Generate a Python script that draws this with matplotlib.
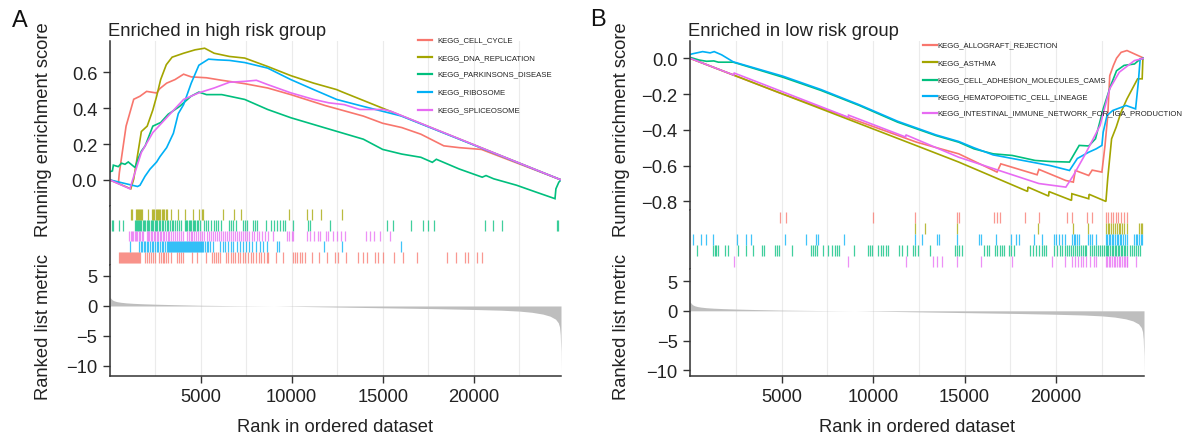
import matplotlib
matplotlib.use("Agg")
import matplotlib.pyplot as plt
from matplotlib.lines import Line2D
from matplotlib.ticker import FuncFormatter, FixedLocator, MultipleLocator

plt.rcParams["font.family"] = ["Liberation Sans", "DejaVu Sans"]

# ── data: panel A (enriched in high risk group) ───────────────────────────────
names_a = ["KEGG_CELL_CYCLE", "KEGG_DNA_REPLICATION", "KEGG_PARKINSONS_DISEASE",
           "KEGG_RIBOSOME", "KEGG_SPLICEOSOME"]

cell_cycle_x = [0, 480, 530, 900, 1320, 1665, 2030, 2580, 2760, 3130, 3590, 4060, 4480,
                5320, 6160, 7420, 8680, 9950, 11840, 13940, 15000, 16050, 17100, 18360,
                19200, 20430, 24800]
cell_cycle_y = [0, -0.015, 0.04, 0.30, 0.45, 0.467, 0.494, 0.485, 0.51, 0.54, 0.56, 0.59,
                0.575, 0.57, 0.556, 0.537, 0.513, 0.476, 0.415, 0.356, 0.316, 0.292, 0.255,
                0.19, 0.18, 0.17, 0.0]

dna_x = [0, 1160, 1320, 1740, 2060, 2370, 2580, 2800, 3110, 3430, 4060, 4690, 5220, 5740,
         6580, 7420, 8680, 9950, 11210, 12470, 12750, 24800]
dna_y = [0, -0.05, 0.005, 0.27, 0.30, 0.39, 0.467, 0.56, 0.643, 0.685, 0.707, 0.726, 0.735,
         0.707, 0.689, 0.68, 0.633, 0.582, 0.54, 0.504, 0.492, 0.0]

parkinsons_x = [0, 150, 200, 470, 650, 840, 1020, 1390, 1570, 1740, 1950, 2370, 2800, 3210,
                3840, 4470, 4900, 5320, 6160, 6580, 7420, 8680, 9950, 11840, 13940, 15000,
                16050, 17100, 17730, 17950, 19200, 20470, 20680, 21100, 22360, 23420, 24470,
                24520, 24680, 24800]
parkinsons_y = [0.045, 0.05, 0.082, 0.074, 0.093, 0.087, 0.10, 0.069, 0.12, 0.16, 0.19, 0.30,
                0.32, 0.366, 0.41, 0.467, 0.49, 0.476, 0.476, 0.467, 0.449, 0.393, 0.347, 0.29,
                0.227, 0.17, 0.144, 0.126, 0.098, 0.115, 0.061, 0.015, 0.024, 0.006, -0.03,
                -0.068, -0.105, -0.05, -0.013, 0.0]

ribosome_x = [0, 1530, 1665, 1940, 2215, 2580, 2764, 3130, 3500, 3770, 4060, 4480, 4900,
              5430, 5950, 6580, 7420, 8680, 9950, 11210, 12470, 13940, 16010, 24800]
ribosome_y = [0, -0.037, -0.03, 0.02, 0.06, 0.10, 0.13, 0.18, 0.26, 0.37, 0.42, 0.54, 0.64,
              0.674, 0.67, 0.667, 0.655, 0.624, 0.56, 0.504, 0.449, 0.41, 0.357, 0.0]

spliceosome_x = [0, 1115, 1220, 1740, 2370, 3210, 4060, 4900, 5740, 6580, 7420, 8060, 8680,
                 9950, 11210, 12050, 12890, 13740, 14160, 15000, 15400, 24800]
spliceosome_y = [0, -0.05, -0.013, 0.153, 0.264, 0.356, 0.449, 0.486, 0.513, 0.545, 0.55,
                 0.556, 0.532, 0.486, 0.449, 0.43, 0.42, 0.393, 0.393, 0.393, 0.385, 0.0]

hits_cell_cycle = [511, 566, 621, 676, 731, 786, 841, 896, 951, 1006, 1061, 1116, 1171, 1225,
                   1280, 1335, 1390, 1445, 1500, 1555, 1610, 1665, 1940, 2031, 2141, 2251,
                   2361, 2490, 2728, 2819, 2911, 3003, 3094, 3204, 3351, 3717, 3827, 3937,
                   4047, 4505, 4817, 5293, 5605, 5715, 5825, 5953, 6063, 6393, 6521, 6649,
                   6777, 6905, 7033, 7161, 7308, 7455, 7601, 7748, 7894, 8041, 8187, 8334,
                   8480, 8627, 8719, 9140, 9506, 10056, 10184, 10312, 10459, 10587, 10734,
                   11100, 11521, 11924, 12382, 12565, 12987, 13664, 13939, 14122, 14580,
                   14764, 15038, 15624, 16101, 16907, 18519, 19032, 19527, 19710, 20168, 20443]
hits_dna = [1152, 1225, 1445, 1482, 1537, 1592, 1647, 1702, 1757, 2087, 2307, 2399, 2453,
            2527, 2582, 2637, 2710, 2783, 2857, 2912, 3003, 3077, 3131, 3369, 3735, 4138,
            4560, 4926, 5054, 5146, 6209, 6850, 7198, 9873, 10826, 11119, 11632, 12749]
hits_parkinsons = [145, 200, 530, 713, 1390, 1445, 1500, 1555, 1610, 1665, 1738, 1812, 1885,
                   1958, 2031, 2105, 2178, 2251, 2325, 2398, 2471, 2545, 2618, 2691, 2764,
                   2874, 2948, 3039, 3131, 3223, 3314, 3406, 3498, 3607, 3717, 3827, 3937,
                   4138, 4193, 4267, 4340, 4413, 4487, 4560, 4633, 4706, 4780, 4871, 4963,
                   5183, 5293, 5421, 5549, 5732, 5842, 5971, 6099, 6575, 6685, 6795, 6941,
                   7308, 7418, 7528, 7857, 7985, 8077, 8572, 8847, 9030, 9213, 9360, 9506,
                   9634, 10092, 10898, 11008, 12107, 15258, 15551, 16540, 17200, 17511,
                   17823, 20626, 21084, 21542, 24565, 24657]
hits_ribosome = [1116, 1629, 1702, 1793, 1866, 1958, 2031, 2123, 2215, 2307, 2398, 2490,
                 2582, 2673, 2764, 2856, 2948, 3039, 3131, 3186, 3241, 3296, 3351, 3406,
                 3461, 3516, 3571, 3626, 3681, 3735, 3790, 3845, 3900, 3955, 4010, 4065,
                 4120, 4175, 4230, 4285, 4340, 4395, 4450, 4505, 4560, 4615, 4670, 4724,
                 4779, 4834, 4889, 4944, 4999, 5054, 5146, 5238, 5329, 5421, 5513, 5696,
                 6063, 6209, 6356, 6521, 6649, 6795, 6978, 7161, 7344, 7491, 7656, 7802,
                 8041, 8260, 8443, 8627, 9176, 9305, 11796, 12785, 16009]
hits_spliceosome = [1079, 1152, 1225, 1299, 1372, 1445, 1518, 1592, 1665, 1757, 1848, 2031,
                    2105, 2178, 2270, 2343, 2435, 2508, 2600, 2673, 2764, 2838, 2929, 3003,
                    3094, 3186, 3278, 3369, 3461, 3571, 3681, 3791, 3901, 4010, 4267, 4358,
                    4450, 4542, 4633, 4743, 4853, 4963, 5073, 5201, 5329, 5458, 5586, 5696,
                    5806, 5916, 6026, 6136, 6245, 6355, 6465, 6575, 6685, 6795, 6905, 7015,
                    7125, 7235, 7345, 7455, 7564, 7674, 7803, 7931, 8077, 8224, 8352, 8535,
                    8719, 8957, 9763, 9873, 10001, 10092, 10862, 11008, 11228, 11466, 11558,
                    11888, 12016, 12290, 12510, 12693, 12932, 14086, 14306, 14526, 14856,
                    15405]

# ── data: panel B (enriched in low risk group) ────────────────────────────────
names_b = ["KEGG_ALLOGRAFT_REJECTION", "KEGG_ASTHMA", "KEGG_CELL_ADHESION_MOLECULES_CAMS",
           "KEGG_HEMATOPOIETIC_CELL_LINEAGE", "KEGG_INTESTINAL_IMMUNE_NETWORK_FOR_IGA_PRODUCTION"]

allograft_x = [0, 4880, 12380, 14680, 16770, 16980, 18960, 19060, 20530, 20940, 21050, 21780,
               21970, 22500, 22670, 22820, 22930, 23130, 23300, 23550, 23870, 24800]
allograft_y = [0, -0.193, -0.469, -0.534, -0.636, -0.59, -0.651, -0.621, -0.683, -0.692,
               -0.627, -0.655, -0.625, -0.636, -0.487, -0.32, -0.097, -0.04, 0.0, 0.033,
               0.043, 0.0]

asthma_x = [0, 12260, 14680, 18440, 18460, 19590, 19610, 20840, 20860, 21780, 21800, 22720,
            22820, 23030, 23280, 23550, 23870, 24450, 24700, 24740, 24800]
asthma_y = [0, -0.484, -0.58, -0.744, -0.72, -0.77, -0.745, -0.794, -0.757, -0.785, -0.76,
            -0.80, -0.67, -0.45, -0.385, -0.30, -0.227, -0.115, -0.115, 0.0, 0.0]

cams_x = [0, 500, 900, 1300, 1550, 2360, 5070, 7160, 9250, 11340, 13430, 14680, 15510,
          16560, 17600, 18850, 19690, 20730, 20940, 21260, 21780, 22150, 22570, 22980, 23300,
          23710, 24280, 24600, 24800]
cams_y = [0.005, -0.01, -0.017, -0.015, -0.022, -0.022, -0.106, -0.18, -0.264, -0.357,
          -0.432, -0.469, -0.506, -0.534, -0.543, -0.571, -0.577, -0.58, -0.543, -0.487,
          -0.49, -0.45, -0.283, -0.153, -0.07, -0.04, -0.032, -0.004, 0.0]

hema_x = [0, 100, 690, 1100, 1320, 1730, 2360, 5070, 7160, 9250, 11340, 13430, 14680, 15510,
          16560, 18650, 19690, 20730, 21160, 21780, 22190, 22500, 22570, 22780, 23090, 23820,
          24340, 24490, 24590, 24800]
hema_y = [0.02, 0.024, 0.037, 0.03, 0.037, 0.019, -0.02, -0.10, -0.175, -0.26, -0.352,
          -0.428, -0.465, -0.50, -0.54, -0.58, -0.60, -0.627, -0.56, -0.525, -0.506, -0.487,
          -0.413, -0.32, -0.292, -0.264, -0.283, -0.134, -0.004, 0.0]

iga_x = [0, 2390, 2400, 8650, 8660, 11780, 11790, 14680, 19060, 20530, 20940, 21570, 22400,
         22930, 23450, 24280, 24800]
iga_y = [0, -0.094, -0.082, -0.33, -0.318, -0.44, -0.428, -0.553, -0.70, -0.72, -0.655,
         -0.54, -0.376, -0.17, -0.078, -0.013, 0.0]

hits_allograft = [4896, 5230, 10010, 12264, 14560, 14706, 16584, 16793, 16918, 18275, 19047,
                  20570, 20884, 21698, 21969, 22700, 22846, 22971, 23117, 23263, 23389,
                  23535, 23681, 23848]
hits_asthma = [12264, 12848, 14560, 19005, 20925, 21718, 22700, 22810, 22890, 23000, 23120,
               23190, 23300, 23410, 23490, 23610, 23700, 23848, 24519, 24623, 24686]
hits_cams = [367, 1265, 1348, 1432, 1515, 1933, 2079, 2600, 3080, 3435, 3915, 4019, 4645,
             4750, 4854, 5585, 6628, 6733, 6837, 6941, 7254, 7526, 7776, 7902, 8027, 8152,
             8966, 9697, 9822, 9968, 10281, 10427, 10552, 10698, 10802, 11428, 11574, 11846,
             12159, 12305, 12472, 13098, 14455, 14560, 14706, 14831, 16083, 16208, 16333,
             16646, 16793, 16918, 17064, 17168, 17419, 17544, 17690, 18587, 18733, 18879,
             19046, 19213, 19359, 19463, 19881, 20048, 20194, 20340, 20507, 20611, 20720,
             20820, 20930, 21030, 21130, 21240, 21340, 21450, 21550, 21650, 21860, 21970,
             22070, 22180, 22280, 22390, 22490, 22600, 22700, 22780, 22860, 22950, 23030,
             23110, 23190, 23280, 23360, 23440, 23530, 23610, 23690, 23770, 23850, 24060,
             24170, 24270, 24380, 24480, 24580]
hits_hema = [159, 576, 889, 1264, 2558, 3038, 3351, 5167, 6315, 6899, 7004, 8402, 12264,
             12681, 13474, 13578, 14560, 15812, 15916, 16709, 17544, 17795, 17962, 18797,
             19214, 19880, 20000, 20150, 20300, 20508, 20884, 20960, 21050, 21130, 21239,
             21718, 21840, 21969, 22178, 22700, 22780, 22870, 22950, 23040, 23120, 23210,
             23300, 23380, 23470, 23560, 23650, 23740, 23848, 24266, 24350, 24440, 24530,
             24610, 24686]
hits_iga = [2392, 8653, 11784, 13265, 13516, 13766, 14560, 15916, 17586, 19778, 20508, 20884,
            21030, 21180, 21340, 21490, 21650, 21860, 22070, 22178, 22700, 22790, 22880,
            22970, 23060, 23150, 23240, 23330, 23420, 23510, 23600, 23690, 23780, 23850,
            23890, 24370]

# ranked list metric (same ordered gene list for both panels)
metric_x = [0, 30, 80, 150, 250, 400, 600, 900, 1300, 1800, 2500, 3500, 5000, 7000, 9000,
            10000, 12000, 15000, 18000, 20000, 21500, 22500, 23200, 23800, 24200, 24500,
            24650, 24720, 24760, 24790, 24800]
metric_y = [1.5, 1.4, 1.2, 1.0, 0.85, 0.72, 0.62, 0.52, 0.44, 0.37, 0.3, 0.22, 0.12, 0.05,
            0.0, -0.05, -0.15, -0.3, -0.45, -0.58, -0.7, -0.85, -1.05, -1.35, -1.7, -2.2,
            -2.8, -3.5, -4.8, -7.5, -10.7]

x_ticks = [5000, 10000, 15000, 20000]
colors = ["#F8766D", "#A3A500", "#00BF7D", "#00B0F6", "#E76BF3"]

# ── layout (pixels of a 1187x439 canvas) ──────────────────────────────────────
W, H = 1187, 439
fig = plt.figure(figsize=(W / 100, H / 100), dpi=100)
DARK = "#333333"
FS = 13.2


def box(l, t, r, b):
    return [l / W, 1 - b / H, (r - l) / W, (b - t) / H]


def fxy(x, y):
    return x / W, 1 - y / H


def prep(ax, show_x=False):
    ax.set_xlim(0, 24800)
    ax.xaxis.set_major_locator(FixedLocator(x_ticks))
    ax.xaxis.set_minor_locator(MultipleLocator(2500))
    ax.grid(axis="x", which="both", color="#EBEBEB", lw=0.8)
    ax.set_axisbelow(True)
    for s in ["top", "right"]:
        ax.spines[s].set_visible(False)
    ax.spines["left"].set_color(DARK)
    ax.spines["left"].set_linewidth(1.1)
    ax.spines["bottom"].set_color(DARK)
    ax.spines["bottom"].set_linewidth(1.1)
    ax.tick_params(which="both", length=5, width=1, color=DARK, labelcolor="#222222",
                   labelsize=FS, pad=4)
    ax.tick_params(axis="x", which="minor", length=0)
    if not show_x:
        ax.spines["bottom"].set_visible(False)
        ax.tick_params(axis="x", which="both", length=0, labelbottom=False)


def minus_fmt(v, _):
    s = "%.1f" % v
    if s == "-0.0":
        s = "0.0"
    return s.replace("-", "\u2212")


def panel(spec):
    l, r = spec["lr"]
    ax1 = fig.add_axes(box(l, spec["es"][0], r, spec["es"][1]))
    ax2 = fig.add_axes(box(l, spec["rug"][0], r, spec["rug"][1]))
    ax3 = fig.add_axes(box(l, spec["met"][0], r, spec["met"][1]))
    for ax in (ax1, ax2, ax3):
        prep(ax, show_x=(ax is ax3))

    for (x, y), c in zip(spec["curves"], colors):
        ax1.plot(x, y, color=c, lw=1.2, solid_joinstyle="miter")
    ax1.set_ylim(*spec["es_lim"])
    ax1.set_yticks(spec["es_ticks"])
    ax1.yaxis.set_major_formatter(FuncFormatter(minus_fmt))

    # rug: one strip per gene set, positions in pixel rows
    rt, rb = spec["rug"]
    ax2.set_ylim(rb, rt)
    ax2.set_yticks([])
    for row, (hits, c) in zip(spec["rug_order"], zip(spec["hits"], colors)):
        y0 = rt + spec["rug_off"] + row * spec["rug_h"]
        ax2.vlines(hits, y0, y0 + spec["rug_h"], color=c, lw=0.9, alpha=0.75)

    ax3.fill_between(metric_x, 0, metric_y, color="#BEBEBE", lw=0)
    ax3.set_ylim(*spec["met_lim"])
    ax3.set_yticks([-10, -5, 0, 5])

    # legend drawn by hand, as in the source figure
    hx0, hx1, tx = spec["leg_x"]
    for yy, name, c in zip(spec["leg_y"], spec["names"], colors):
        fig.add_artist(Line2D([hx0 / W, hx1 / W], [1 - yy / H] * 2, color=c, lw=1.6))
        fig.text(*fxy(tx, yy), name, fontsize=5.6, color="#222222", va="center",
                 ha="left")

    cx = (l + r) / 2
    fig.text(*fxy(spec["ylab_x"], 130), "Running enrichment score", rotation=90,
             fontsize=FS, ha="center", va="center", color="#222222")
    fig.text(*fxy(spec["ylab_x"], 327.5), "Ranked list metric", rotation=90,
             fontsize=FS, ha="center", va="center", color="#222222")
    fig.text(*fxy(cx, 428), "Rank in ordered dataset", fontsize=FS, ha="center",
             va="center", color="#222222")
    fig.text(*fxy(spec["title_x"], 31), spec["title"], fontsize=FS, ha="left",
             va="center", color="#222222")
    fig.text(*fxy(*spec["letter_xy"]), spec["letter"], fontsize=17, ha="center",
             va="center", color="#111111")


panel(dict(
    lr=(109.7, 561), es=(41.7, 207.2), rug=(207.2, 266), met=(266, 376.7),
    curves=[(cell_cycle_x, cell_cycle_y), (dna_x, dna_y), (parkinsons_x, parkinsons_y),
            (ribosome_x, ribosome_y), (spliceosome_x, spliceosome_y)],
    es_lim=(-0.147, 0.777), es_ticks=[0.0, 0.2, 0.4, 0.6],
    hits=[hits_cell_cycle, hits_dna, hits_parkinsons, hits_ribosome, hits_spliceosome],
    rug_order=[4, 0, 1, 3, 2], rug_off=2.8, rug_h=10.8,
    met_lim=(-11.62, 6.83),
    names=names_a, leg_x=(418, 432, 437), leg_y=[40.7, 58.3, 75, 92.7, 110.7],
    ylab_x=44, title_x=108, title="Enriched in high risk group",
    letter="A", letter_xy=(20, 21),
))

panel(dict(
    lr=(690, 1144), es=(41.7, 210.5), rug=(210.5, 270), met=(270, 376.7),
    curves=[(allograft_x, allograft_y), (asthma_x, asthma_y), (cams_x, cams_y),
            (hema_x, hema_y), (iga_x, iga_y)],
    es_lim=(-0.845, 0.098), es_ticks=[-0.8, -0.6, -0.4, -0.2, 0.0],
    hits=[hits_allograft, hits_asthma, hits_cams, hits_hema, hits_iga],
    rug_order=[0, 1, 3, 2, 4], rug_off=2.5, rug_h=11,
    met_lim=(-10.89, 7.02),
    names=names_b, leg_x=(923, 937, 937.5), leg_y=[45.7, 63.3, 80.7, 97.3, 114],
    ylab_x=622, title_x=687.6, title="Enriched in low risk group",
    letter="B", letter_xy=(598, 20),
))

fig.savefig("out.png", dpi=100)
